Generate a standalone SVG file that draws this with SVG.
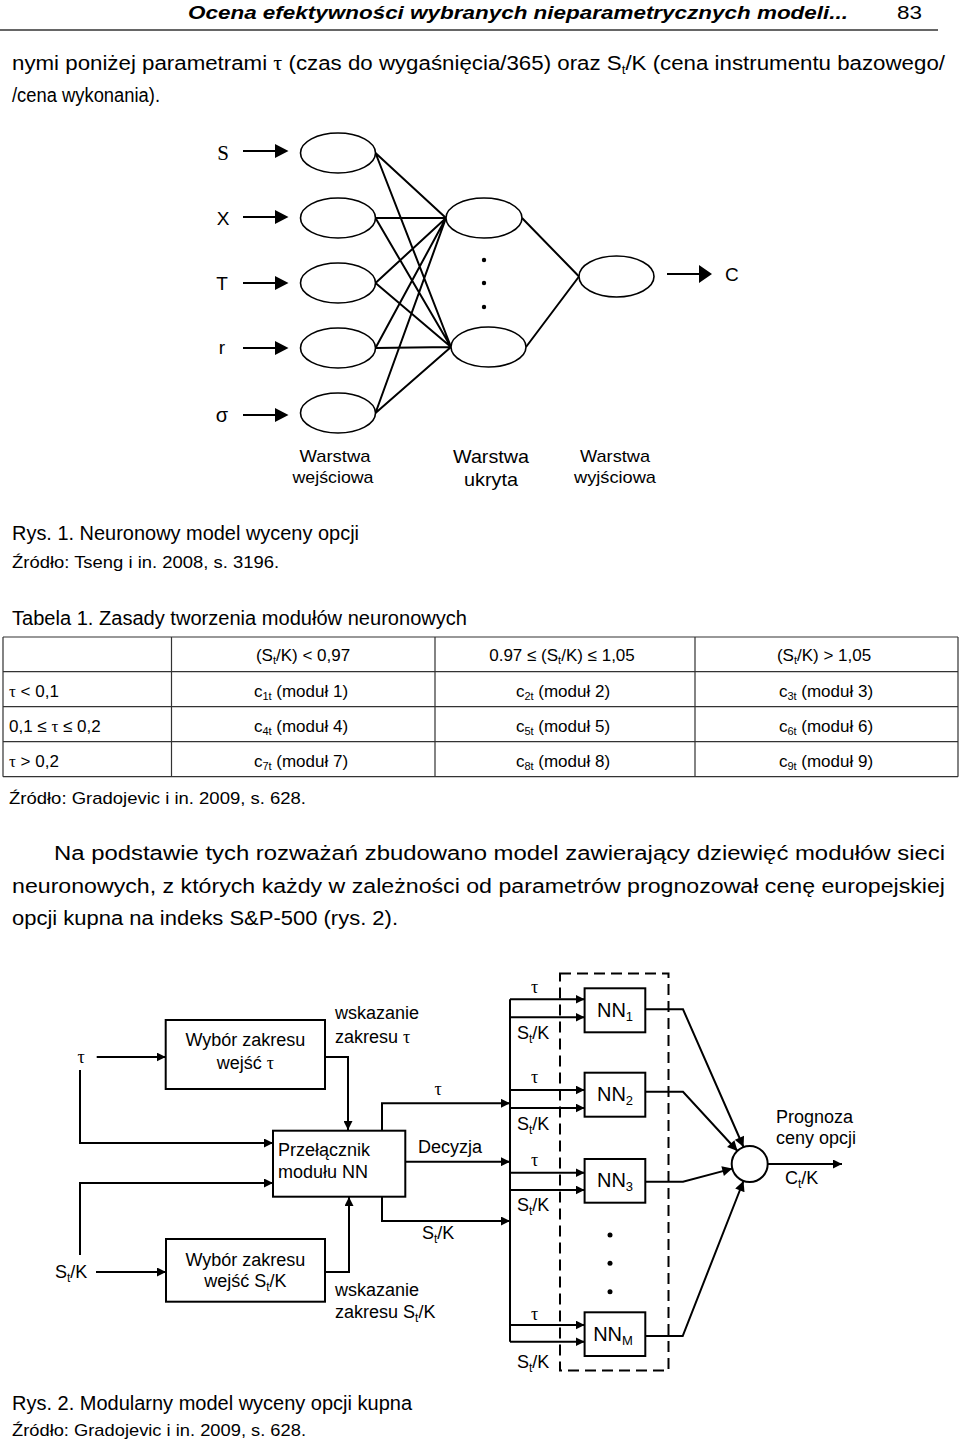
<svg xmlns="http://www.w3.org/2000/svg" width="960" height="1444" viewBox="0 0 960 1444">
<style>
.t{font-family:"Liberation Sans",Arial,sans-serif;fill:#000}
.s{font-family:"Liberation Serif","Times New Roman",serif}
.ln{stroke:#000;stroke-width:2;fill:none}
.nd{fill:#fff;stroke:#000;stroke-width:1.6}
.bx{fill:#fff;stroke:#000;stroke-width:2}
.tb{stroke:#333;stroke-width:1.2}
</style>
<defs>
<marker id="ah" viewBox="0 0 10 10" refX="10" refY="5" markerWidth="9" markerHeight="9" markerUnits="userSpaceOnUse" orient="auto"><path d="M0,0 L10,5 L0,10 z" fill="#000"/></marker>
<marker id="ah2" viewBox="0 0 10 10" refX="10" refY="5" markerWidth="12" markerHeight="10" markerUnits="userSpaceOnUse" orient="auto"><path d="M0,0 L10,5 L0,10 z" fill="#000"/></marker>
</defs>
<rect width="960" height="1444" fill="#fff"/>

<!-- page header and text -->
<g id="page-text" class="t">
<text x="188" y="19" font-size="19" font-weight="bold" font-style="italic" textLength="660" lengthAdjust="spacingAndGlyphs">Ocena efektywności wybranych nieparametrycznych modeli...</text>
<text x="897" y="19" font-size="19" textLength="25" lengthAdjust="spacingAndGlyphs">83</text>
<line x1="0" y1="30" x2="938" y2="30" stroke="#333" stroke-width="1.5"/>
<text x="12" y="70" font-size="20" textLength="933" lengthAdjust="spacingAndGlyphs">nymi poniżej parametrami <tspan class="s">τ</tspan> (czas do wygaśnięcia/365) oraz S<tspan font-size="12" dy="4">t</tspan><tspan dy="-4">/K (cena instrumentu bazowego/</tspan></text>
<text x="12" y="102" font-size="20" textLength="148" lengthAdjust="spacingAndGlyphs">/cena wykonania).</text>
</g>

<!-- Figure 1 -->
<g id="fig1-connectors">
<path class="ln" d="M375.5,153 L446,218 M375.5,153 L451,347 M375.5,218 L446,218 M375.5,218 L451,347 M375.5,283 L446,218 M375.5,283 L451,347 M375.5,348 L446,218 M375.5,348 L451,347 M375.5,413 L446,218 M375.5,413 L451,347"/>
<path class="ln" d="M522,218 L579,276.5 M526,347 L579,276.5"/>
<path class="ln" d="M243,151 L277,151 M243,217 L277,217 M243,283 L277,283 M243,348 L277,348 M243,415 L277,415 M667,274 L701,274"/>
<path d="M275,144 L288.5,151 L275,158 z M275,210 L288.5,217 L275,224 z M275,276 L288.5,283 L275,290 z M275,341 L288.5,348 L275,355 z M275,408 L288.5,415 L275,422 z M699,265 L712,274 L699,283 z" fill="#000"/>
</g>
<g id="in-S"><ellipse class="nd" cx="338" cy="153" rx="37.5" ry="20"/><text class="s" x="223" y="160" font-size="21" text-anchor="middle">S</text></g>
<g id="in-X"><ellipse class="nd" cx="338" cy="218" rx="37.5" ry="20"/><text class="t" x="223" y="225" font-size="19" text-anchor="middle">X</text></g>
<g id="in-T"><ellipse class="nd" cx="338" cy="283" rx="37.5" ry="20"/><text class="t" x="222" y="290" font-size="19" text-anchor="middle">T</text></g>
<g id="in-r"><ellipse class="nd" cx="338" cy="348" rx="37.5" ry="20"/><text class="t" x="222" y="354" font-size="19" text-anchor="middle">r</text></g>
<g id="in-sigma"><ellipse class="nd" cx="338" cy="413" rx="37.5" ry="20"/><text class="t" x="222" y="422" font-size="20" text-anchor="middle">σ</text></g>
<g id="hidden-1"><ellipse class="nd" cx="484" cy="218" rx="38" ry="20"/></g>
<g id="hidden-dots"><circle cx="484" cy="260" r="2.2"/><circle cx="484" cy="283" r="2.2"/><circle cx="484" cy="307" r="2.2"/></g>
<g id="hidden-n"><ellipse class="nd" cx="488.5" cy="347" rx="37.5" ry="20"/></g>
<g id="out"><ellipse class="nd" cx="616.5" cy="276.5" rx="37.5" ry="20.5"/><text class="t" x="725" y="281" font-size="19">C</text></g>
<g id="layer-labels" class="t" text-anchor="middle">
<text x="335" y="462" font-size="17" textLength="71" lengthAdjust="spacingAndGlyphs">Warstwa</text>
<text x="333" y="483" font-size="17" textLength="81" lengthAdjust="spacingAndGlyphs">wejściowa</text>
<text x="491" y="463" font-size="19" textLength="76" lengthAdjust="spacingAndGlyphs">Warstwa</text>
<text x="491" y="486" font-size="19" textLength="54" lengthAdjust="spacingAndGlyphs">ukryta</text>
<text x="615" y="462" font-size="17" textLength="70" lengthAdjust="spacingAndGlyphs">Warstwa</text>
<text x="615" y="483" font-size="17" textLength="82" lengthAdjust="spacingAndGlyphs">wyjściowa</text>
</g>
<g id="captions1" class="t">
<text x="12" y="540" font-size="20" textLength="347" lengthAdjust="spacingAndGlyphs">Rys. 1. Neuronowy model wyceny opcji</text>
<text x="12" y="568" font-size="17" textLength="267" lengthAdjust="spacingAndGlyphs">Źródło: Tseng i in. 2008, s. 3196.</text>
<text x="12" y="625" font-size="20" textLength="455" lengthAdjust="spacingAndGlyphs">Tabela 1. Zasady tworzenia modułów neuronowych</text>
</g>

<!-- Table -->
<g id="table">
<path class="tb" d="M3,637 H958 M3,671.7 H958 M3,706.7 H958 M3,741.7 H958 M3,776.7 H958 M3,637 V776.7 M171.5,637 V776.7 M435,637 V776.7 M695,637 V776.7 M958,637 V776.7"/>
<g class="t" font-size="17">
<text x="303" y="661" text-anchor="middle">(S<tspan font-size="11" dy="3">t</tspan><tspan dy="-3">/K) &lt; 0,97</tspan></text>
<text x="562" y="661" text-anchor="middle">0.97 ≤ (S<tspan font-size="11" dy="3">t</tspan><tspan dy="-3">/K) ≤ 1,05</tspan></text>
<text x="824" y="661" text-anchor="middle">(S<tspan font-size="11" dy="3">t</tspan><tspan dy="-3">/K) &gt; 1,05</tspan></text>
<text x="9" y="697"><tspan class="s">τ</tspan> &lt; 0,1</text>
<text x="9" y="732">0,1 ≤ <tspan class="s">τ</tspan> ≤ 0,2</text>
<text x="9" y="767"><tspan class="s">τ</tspan> &gt; 0,2</text>
<text x="301" y="697" text-anchor="middle">c<tspan font-size="11" dy="3">1t</tspan><tspan dy="-3"> (moduł 1)</tspan></text>
<text x="563" y="697" text-anchor="middle">c<tspan font-size="11" dy="3">2t</tspan><tspan dy="-3"> (moduł 2)</tspan></text>
<text x="826" y="697" text-anchor="middle">c<tspan font-size="11" dy="3">3t</tspan><tspan dy="-3"> (moduł 3)</tspan></text>
<text x="301" y="732" text-anchor="middle">c<tspan font-size="11" dy="3">4t</tspan><tspan dy="-3"> (moduł 4)</tspan></text>
<text x="563" y="732" text-anchor="middle">c<tspan font-size="11" dy="3">5t</tspan><tspan dy="-3"> (moduł 5)</tspan></text>
<text x="826" y="732" text-anchor="middle">c<tspan font-size="11" dy="3">6t</tspan><tspan dy="-3"> (moduł 6)</tspan></text>
<text x="301" y="767" text-anchor="middle">c<tspan font-size="11" dy="3">7t</tspan><tspan dy="-3"> (moduł 7)</tspan></text>
<text x="563" y="767" text-anchor="middle">c<tspan font-size="11" dy="3">8t</tspan><tspan dy="-3"> (moduł 8)</tspan></text>
<text x="826" y="767" text-anchor="middle">c<tspan font-size="11" dy="3">9t</tspan><tspan dy="-3"> (moduł 9)</tspan></text>
<text x="9" y="804" textLength="297" lengthAdjust="spacingAndGlyphs">Źródło: Gradojevic i in. 2009, s. 628.</text>
</g>
</g>

<g id="paragraph" class="t" font-size="20">
<text x="54" y="860" textLength="891" lengthAdjust="spacingAndGlyphs">Na podstawie tych rozważań zbudowano model zawierający dziewięć modułów sieci</text>
<text x="12" y="893" textLength="933" lengthAdjust="spacingAndGlyphs">neuronowych, z których każdy w zależności od parametrów prognozował cenę europejskiej</text>
<text x="12" y="925" textLength="386" lengthAdjust="spacingAndGlyphs">opcji kupna na indeks S&amp;P-500 (rys. 2).</text>
</g>

<!-- Figure 2 -->
<g id="fig2-connectors">
<path class="ln" marker-end="url(#ah)" d="M96.7,1057 H165.7"/>
<path class="ln" marker-end="url(#ah)" d="M80,1070 V1143 H273"/>
<path class="ln" marker-end="url(#ah)" d="M325,1057 H348 V1130"/>
<path class="ln" marker-end="url(#ah)" d="M96,1272 H166"/>
<path class="ln" marker-end="url(#ah)" d="M80,1255 V1183 H273"/>
<path class="ln" marker-end="url(#ah)" d="M325,1272 H349 V1197"/>
<path class="ln" marker-end="url(#ah)" d="M382,1130 V1103.3 H510"/>
<path class="ln" marker-end="url(#ah)" d="M405,1161.7 H510"/>
<path class="ln" marker-end="url(#ah)" d="M382,1197 V1221 H510"/>
<path class="ln" d="M510,999.3 V1341.7"/>
<path class="ln" marker-end="url(#ah)" d="M510,999.3 H584.6"/>
<path class="ln" marker-end="url(#ah)" d="M510,1017.3 H584.6"/>
<path class="ln" marker-end="url(#ah)" d="M510,1090 H584.6"/>
<path class="ln" marker-end="url(#ah)" d="M510,1108 H584.6"/>
<path class="ln" marker-end="url(#ah)" d="M510,1172.7 H584.6"/>
<path class="ln" marker-end="url(#ah)" d="M510,1190 H584.6"/>
<path class="ln" marker-end="url(#ah)" d="M510,1325 H584.6"/>
<path class="ln" marker-end="url(#ah)" d="M510,1341.7 H584.6"/>
<path class="ln" marker-end="url(#ah2)" d="M645.3,1009.3 H683 L743.5,1147"/>
<path class="ln" marker-end="url(#ah2)" d="M645.3,1091.7 H683 L737.5,1151"/>
<path class="ln" marker-end="url(#ah2)" d="M645.3,1181.7 H683 L732.3,1168.6"/>
<path class="ln" marker-end="url(#ah2)" d="M645.3,1336 H682.7 L743.5,1181"/>
<path class="ln" marker-end="url(#ah)" d="M768,1164 H842"/>
</g>
<g id="nn-module">
<rect x="560" y="973.5" width="108.5" height="397" fill="none" stroke="#000" stroke-width="2" stroke-dasharray="11 6"/>
</g>
<g id="box-tau"><rect class="bx" x="165.7" y="1020" width="159.3" height="69"/>
<text class="t" font-size="18" text-anchor="middle"><tspan x="245.4" y="1046">Wybór zakresu</tspan><tspan x="245.4" y="1069">wejść <tspan class="s">τ</tspan></tspan></text></g>
<g id="box-sk"><rect class="bx" x="166" y="1239" width="159" height="62.7"/>
<text class="t" font-size="18" text-anchor="middle"><tspan x="245.4" y="1266">Wybór zakresu</tspan><tspan x="245.4" y="1287">wejść S<tspan font-size="12" dy="4">t</tspan><tspan dy="-4">/K</tspan></tspan></text></g>
<g id="box-switch"><rect class="bx" x="273" y="1130.7" width="132.3" height="66"/>
<text class="t" font-size="18"><tspan x="278" y="1156">Przełącznik</tspan><tspan x="278" y="1178">modułu NN</tspan></text></g>
<g id="nn1"><rect class="bx" x="584.6" y="988.3" width="60.7" height="44"/><text class="t" x="615" y="1017" font-size="20" text-anchor="middle">NN<tspan font-size="13" dy="4">1</tspan></text></g>
<g id="nn2"><rect class="bx" x="584.6" y="1072.7" width="60.7" height="44"/><text class="t" x="615" y="1101" font-size="20" text-anchor="middle">NN<tspan font-size="13" dy="4">2</tspan></text></g>
<g id="nn3"><rect class="bx" x="584.6" y="1159" width="60.7" height="43.7"/><text class="t" x="615" y="1187" font-size="20" text-anchor="middle">NN<tspan font-size="13" dy="4">3</tspan></text></g>
<g id="nn-dots"><circle cx="610" cy="1235" r="2.5"/><circle cx="610" cy="1263.3" r="2.5"/><circle cx="610" cy="1291.7" r="2.5"/></g>
<g id="nnM"><rect class="bx" x="584.6" y="1312.3" width="60.7" height="43.7"/><text class="t" x="613" y="1341" font-size="20" text-anchor="middle">NN<tspan font-size="13" dy="4">M</tspan></text></g>
<g id="sum"><circle class="bx" cx="749.7" cy="1164" r="18"/></g>
<g id="fig2-labels" class="t" font-size="18">
<text class="s" x="81" y="1063" text-anchor="middle">τ</text>
<text x="55" y="1278">S<tspan font-size="12" dy="4">t</tspan><tspan dy="-4">/K</tspan></text>
<text x="335" y="1019">wskazanie</text>
<text x="335" y="1043">zakresu <tspan class="s">τ</tspan></text>
<text x="335" y="1296">wskazanie</text>
<text x="335" y="1318">zakresu S<tspan font-size="12" dy="4">t</tspan><tspan dy="-4">/K</tspan></text>
<text class="s" x="438" y="1095" text-anchor="middle">τ</text>
<text x="418" y="1153">Decyzja</text>
<text x="422" y="1239">S<tspan font-size="12" dy="4">t</tspan><tspan dy="-4">/K</tspan></text>
<text class="s" x="534.5" y="993" text-anchor="middle">τ</text>
<text x="517" y="1039">S<tspan font-size="12" dy="4">t</tspan><tspan dy="-4">/K</tspan></text>
<text class="s" x="534.5" y="1083" text-anchor="middle">τ</text>
<text x="517" y="1130">S<tspan font-size="12" dy="4">t</tspan><tspan dy="-4">/K</tspan></text>
<text class="s" x="534.5" y="1166" text-anchor="middle">τ</text>
<text x="517" y="1211">S<tspan font-size="12" dy="4">t</tspan><tspan dy="-4">/K</tspan></text>
<text class="s" x="534.5" y="1320" text-anchor="middle">τ</text>
<text x="517" y="1368">S<tspan font-size="12" dy="4">t</tspan><tspan dy="-4">/K</tspan></text>
<text x="776" y="1123">Prognoza</text>
<text x="776" y="1144">ceny opcji</text>
<text x="785" y="1184">C<tspan font-size="12" dy="4">t</tspan><tspan dy="-4">/K</tspan></text>
</g>
<g id="captions2" class="t">
<text x="12" y="1410" font-size="20" textLength="400" lengthAdjust="spacingAndGlyphs">Rys. 2. Modularny model wyceny opcji kupna</text>
<text x="12" y="1436" font-size="17" textLength="294" lengthAdjust="spacingAndGlyphs">Źródło: Gradojevic i in. 2009, s. 628.</text>
</g>
</svg>
